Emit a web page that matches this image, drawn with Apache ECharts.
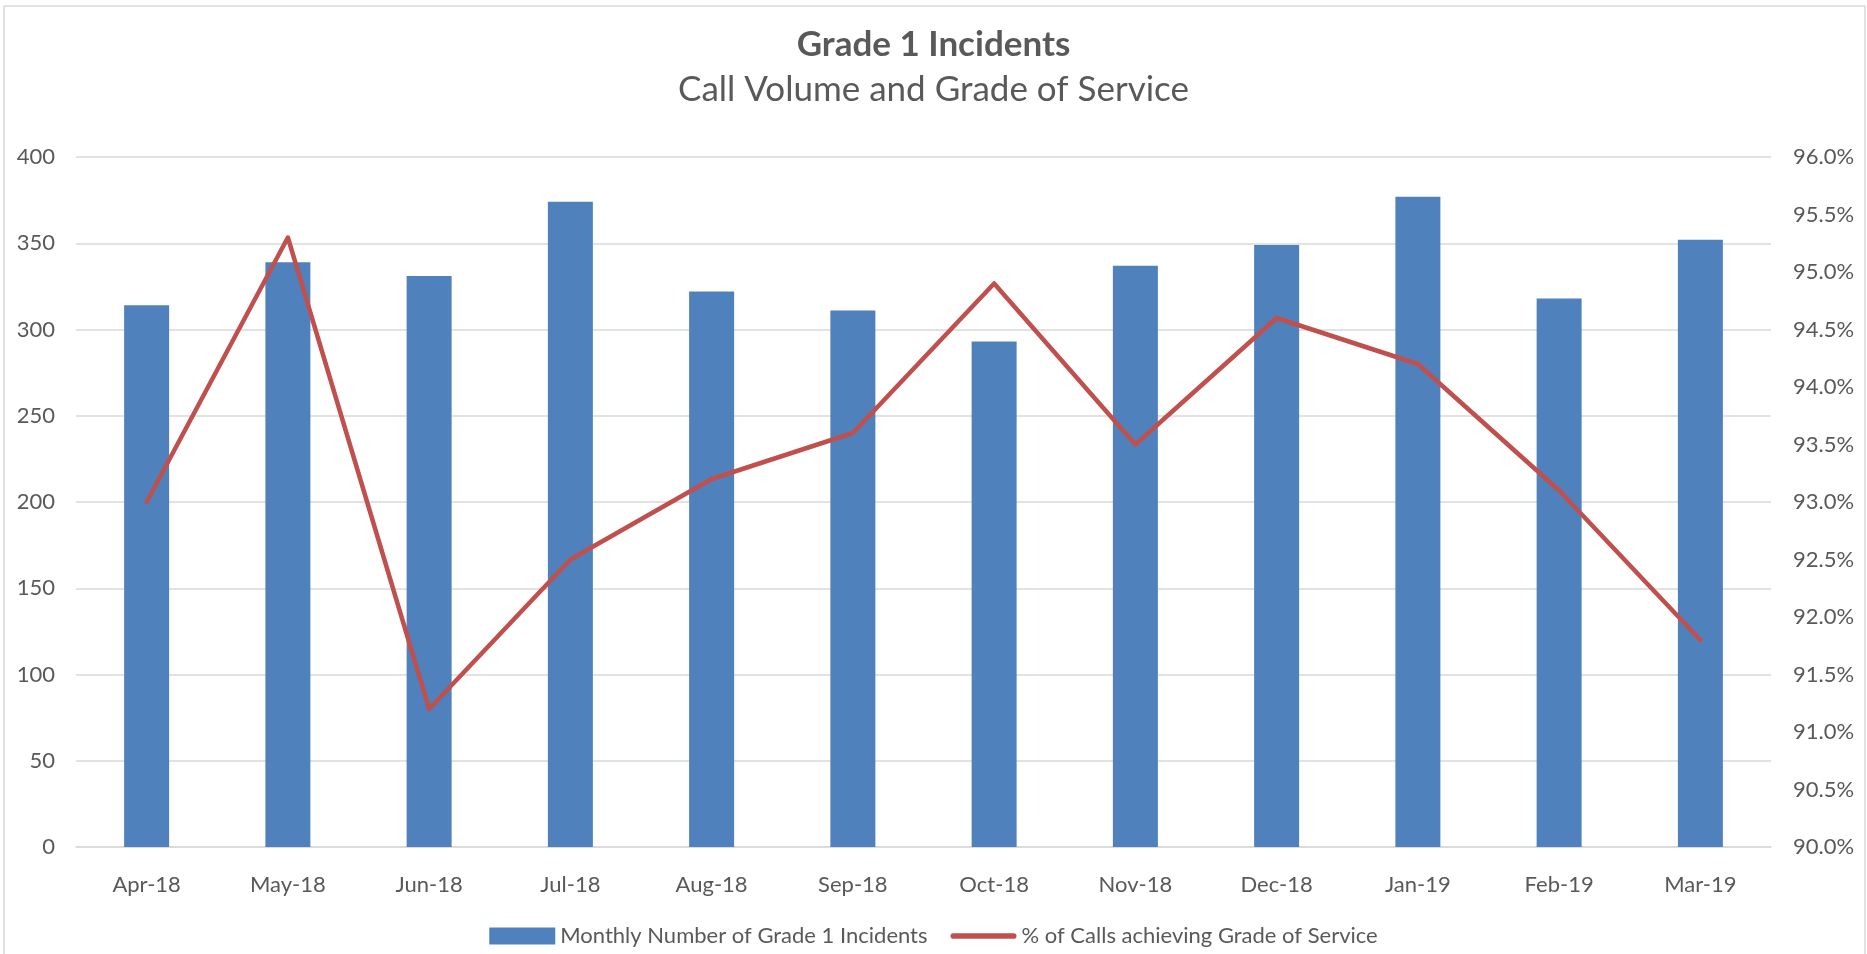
<!DOCTYPE html>
<html>
<head>
<meta charset="utf-8">
<script src="https://cdn.jsdelivr.net/npm/echarts@6/dist/echarts.min.js"></script>
<style>
  html, body { margin: 0; padding: 0; background: #ffffff; }
  #chart { width: 1867px; height: 954px; }
</style>
</head>
<body>
<div id="chart"></div>
<script>
const categories = ['Apr-18','May-18','Jun-18','Jul-18','Aug-18','Sep-18','Oct-18','Nov-18','Dec-18','Jan-19','Feb-19','Mar-19'];
const incidents = [314, 339, 331, 374, 322, 311, 293, 337, 349, 377, 318, 352];
const gradeOfService = [93.0, 95.3, 91.2, 92.5, 93.2, 93.6, 94.9, 93.5, 94.6, 94.2, 93.1, 91.8];
const titleText = 'Grade 1 Incidents';
const subtitleText = 'Call Volume and Grade of Service';
const barName = 'Monthly Number of Grade 1 Incidents';
const lineName = '% of Calls achieving Grade of Service';

const FONT = 'Lato';
const TXT = '#595959';
const chart = echarts.init(document.getElementById('chart'), null, { renderer: 'canvas' });
chart.setOption({
  animation: false,
  backgroundColor: '#ffffff',
  textStyle: { fontFamily: FONT },
  graphic: [{
    type: 'rect',
    shape: { x: 4, y: 6, width: 1861, height: 970 },
    style: { fill: 'none', stroke: '#D9D9D9', lineWidth: 1.5 },
    silent: true
  }],
  title: [
    { text: titleText, left: 'center', top: 22,
      textStyle: { fontFamily: FONT, fontSize: 35, fontWeight: 'bold', color: TXT } },
    { text: subtitleText, left: 'center', top: 67,
      textStyle: { fontFamily: FONT, fontSize: 35, fontWeight: 'normal', color: TXT } }
  ],
  grid: { left: 76, right: 96, top: 157, bottom: 107, containLabel: false },
  legend: {
    left: 'center', top: 920,
    itemWidth: 66, itemHeight: 17, itemGap: 23,
    textStyle: { fontFamily: FONT, fontSize: 22, color: TXT },
    data: [
      { name: barName, icon: 'rect' },
      { name: lineName, icon: 'path://M3,0 H67 A3,3 0 0 1 67,6 H3 A3,3 0 0 1 3,0 Z' }
    ]
  },
  xAxis: {
    type: 'category',
    data: categories,
    axisLine: { lineStyle: { color: '#D9D9D9', width: 1.5 } },
    axisTick: { show: false },
    axisLabel: { fontFamily: FONT, fontSize: 22, color: TXT, margin: 27 }
  },
  yAxis: [
    {
      type: 'value', min: 0, max: 400, interval: 50,
      axisLine: { show: false }, axisTick: { show: false },
      axisLabel: { fontFamily: FONT, fontSize: 22, color: TXT, margin: 21 },
      splitLine: { lineStyle: { color: '#D9D9D9', width: 1.5 } }
    },
    {
      type: 'value', min: 90, max: 96, interval: 0.5, position: 'right',
      axisLine: { show: false }, axisTick: { show: false },
      axisLabel: { fontFamily: FONT, fontSize: 22, color: TXT, margin: 22,
        formatter: v => v.toFixed(1) + '%' },
      splitLine: { show: false }
    }
  ],
  series: [
    {
      name: barName, type: 'bar', data: incidents, yAxisIndex: 0,
      barWidth: 45,
      itemStyle: { color: '#4F81BD' }
    },
    {
      name: lineName, type: 'line', data: gradeOfService, yAxisIndex: 1,
      symbol: 'none', showSymbol: false,
      lineStyle: { color: '#C0504D', width: 4.5, cap: 'round', join: 'round' },
      itemStyle: { color: '#C0504D' }
    }
  ]
});
</script>
</body>
</html>
